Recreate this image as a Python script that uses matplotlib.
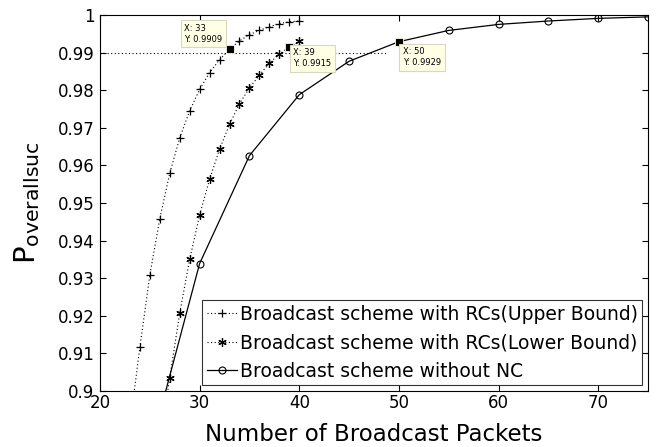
import matplotlib
matplotlib.use('Agg')
import matplotlib.pyplot as plt

# ---- data ----
upper_x = [23, 24, 25, 26, 27, 28, 29, 30, 31, 32, 33, 34, 35, 36, 37, 38, 39, 40]
upper_y = [0.8909, 0.9116, 0.9308, 0.9458, 0.9579, 0.9673, 0.9745, 0.9802, 0.9847,
           0.9881, 0.9909, 0.9931, 0.9948, 0.9959, 0.9969, 0.9977, 0.9982, 0.9984]

lower_x = [26, 27, 28, 29, 30, 31, 32, 33, 34, 35, 36, 37, 38, 39, 40]
lower_y = [0.8863, 0.9035, 0.9207, 0.9350, 0.9468, 0.9563, 0.9643, 0.9709, 0.9764,
           0.9806, 0.9840, 0.9872, 0.9896, 0.9915, 0.9930]

nonc_x = [25, 30, 35, 40, 45, 50, 55, 60, 65, 70, 75]
nonc_y = [0.8841, 0.9339, 0.9626, 0.9788, 0.9877, 0.9929, 0.9959, 0.9975, 0.9984,
          0.9991, 0.9995]

# data cursors: (x, y, offset of box in points, ha, va)
tips = [(33, 0.9909, (-5, 4), 'right', 'bottom'),
        (39, 0.9915, (3, -1), 'left', 'top'),
        (50, 0.9929, (3, -4), 'left', 'top')]

ref_level = 0.99
ref_x = [20, 48.9]

xticks = [20, 30, 40, 50, 60, 70]
yticks = [0.9, 0.91, 0.92, 0.93, 0.94, 0.95, 0.96, 0.97, 0.98, 0.99, 1.0]
ytick_labels = ['0.9', '0.91', '0.92', '0.93', '0.94', '0.95', '0.96', '0.97',
                '0.98', '0.99', '1']

labels = ['Broadcast scheme with RCs(Upper Bound)',
          'Broadcast scheme with RCs(Lower Bound)',
          'Broadcast scheme without NC']

# ---- figure ----
fig = plt.figure(figsize=(6.56, 4.47), dpi=100)
ax = fig.add_axes([100 / 656, 56 / 447, 548 / 656, 376 / 447])

dot = (0, (1, 2.2))
ax.plot(ref_x, [ref_level, ref_level], color='k', lw=0.8, linestyle=dot, zorder=1)

ax.plot(upper_x, upper_y, color='k', lw=0.8, linestyle=dot, marker='+',
        markersize=6, markeredgewidth=0.9, label=labels[0], zorder=2)
ax.plot(lower_x, lower_y, color='k', lw=0.8, linestyle=dot, marker=(6, 2, 0),
        markersize=6, markeredgewidth=0.9, label=labels[1], zorder=2)
ax.plot(nonc_x, nonc_y, color='k', lw=0.9, linestyle='-', marker='o',
        markersize=5, markerfacecolor='none', markeredgewidth=0.8,
        label=labels[2], zorder=2)

for tx, ty, off, ha, va in tips:
    ax.plot([tx], [ty], marker='s', color='k', markersize=5.5,
            markeredgecolor='#ffffe0', markeredgewidth=0.6, zorder=4, clip_on=False)
    ax.annotate(f'X: {tx}\nY: {ty}', xy=(tx, ty), xytext=off,
                textcoords='offset points', ha=ha, va=va, multialignment='left',
                fontsize=6, linespacing=1.3, zorder=5,
                bbox=dict(boxstyle='square,pad=0.45', fc='#ffffe6',
                          ec='#d8d8c0', lw=0.8))

ax.set_xlim(20, 75)
ax.set_ylim(0.9, 1.0)
ax.set_xticks(xticks)
ax.set_yticks(yticks)
ax.set_yticklabels(ytick_labels)

ax.tick_params(direction='in', top=True, right=True, length=4, width=0.8,
               labelsize=12)
ax.tick_params(axis='x', pad=2)
ax.tick_params(axis='y', pad=4)
for sp in ax.spines.values():
    sp.set_linewidth(0.8)
    sp.set_color('k')

ax.set_xlabel('Number of Broadcast Packets', fontsize=16.5, labelpad=8)
ax.set_ylabel(r'$\mathrm{P}_{\mathrm{overallsuc}}$', fontsize=21, labelpad=11)

leg = ax.legend(loc='lower right', fontsize=13.5, frameon=True, fancybox=False,
                framealpha=1, edgecolor='#333333', handlelength=1.6,
                handletextpad=0.15, labelspacing=0.5, borderpad=0.25,
                borderaxespad=0.3)
leg.get_frame().set_linewidth(0.8)

fig.savefig('out.png', dpi=100)
